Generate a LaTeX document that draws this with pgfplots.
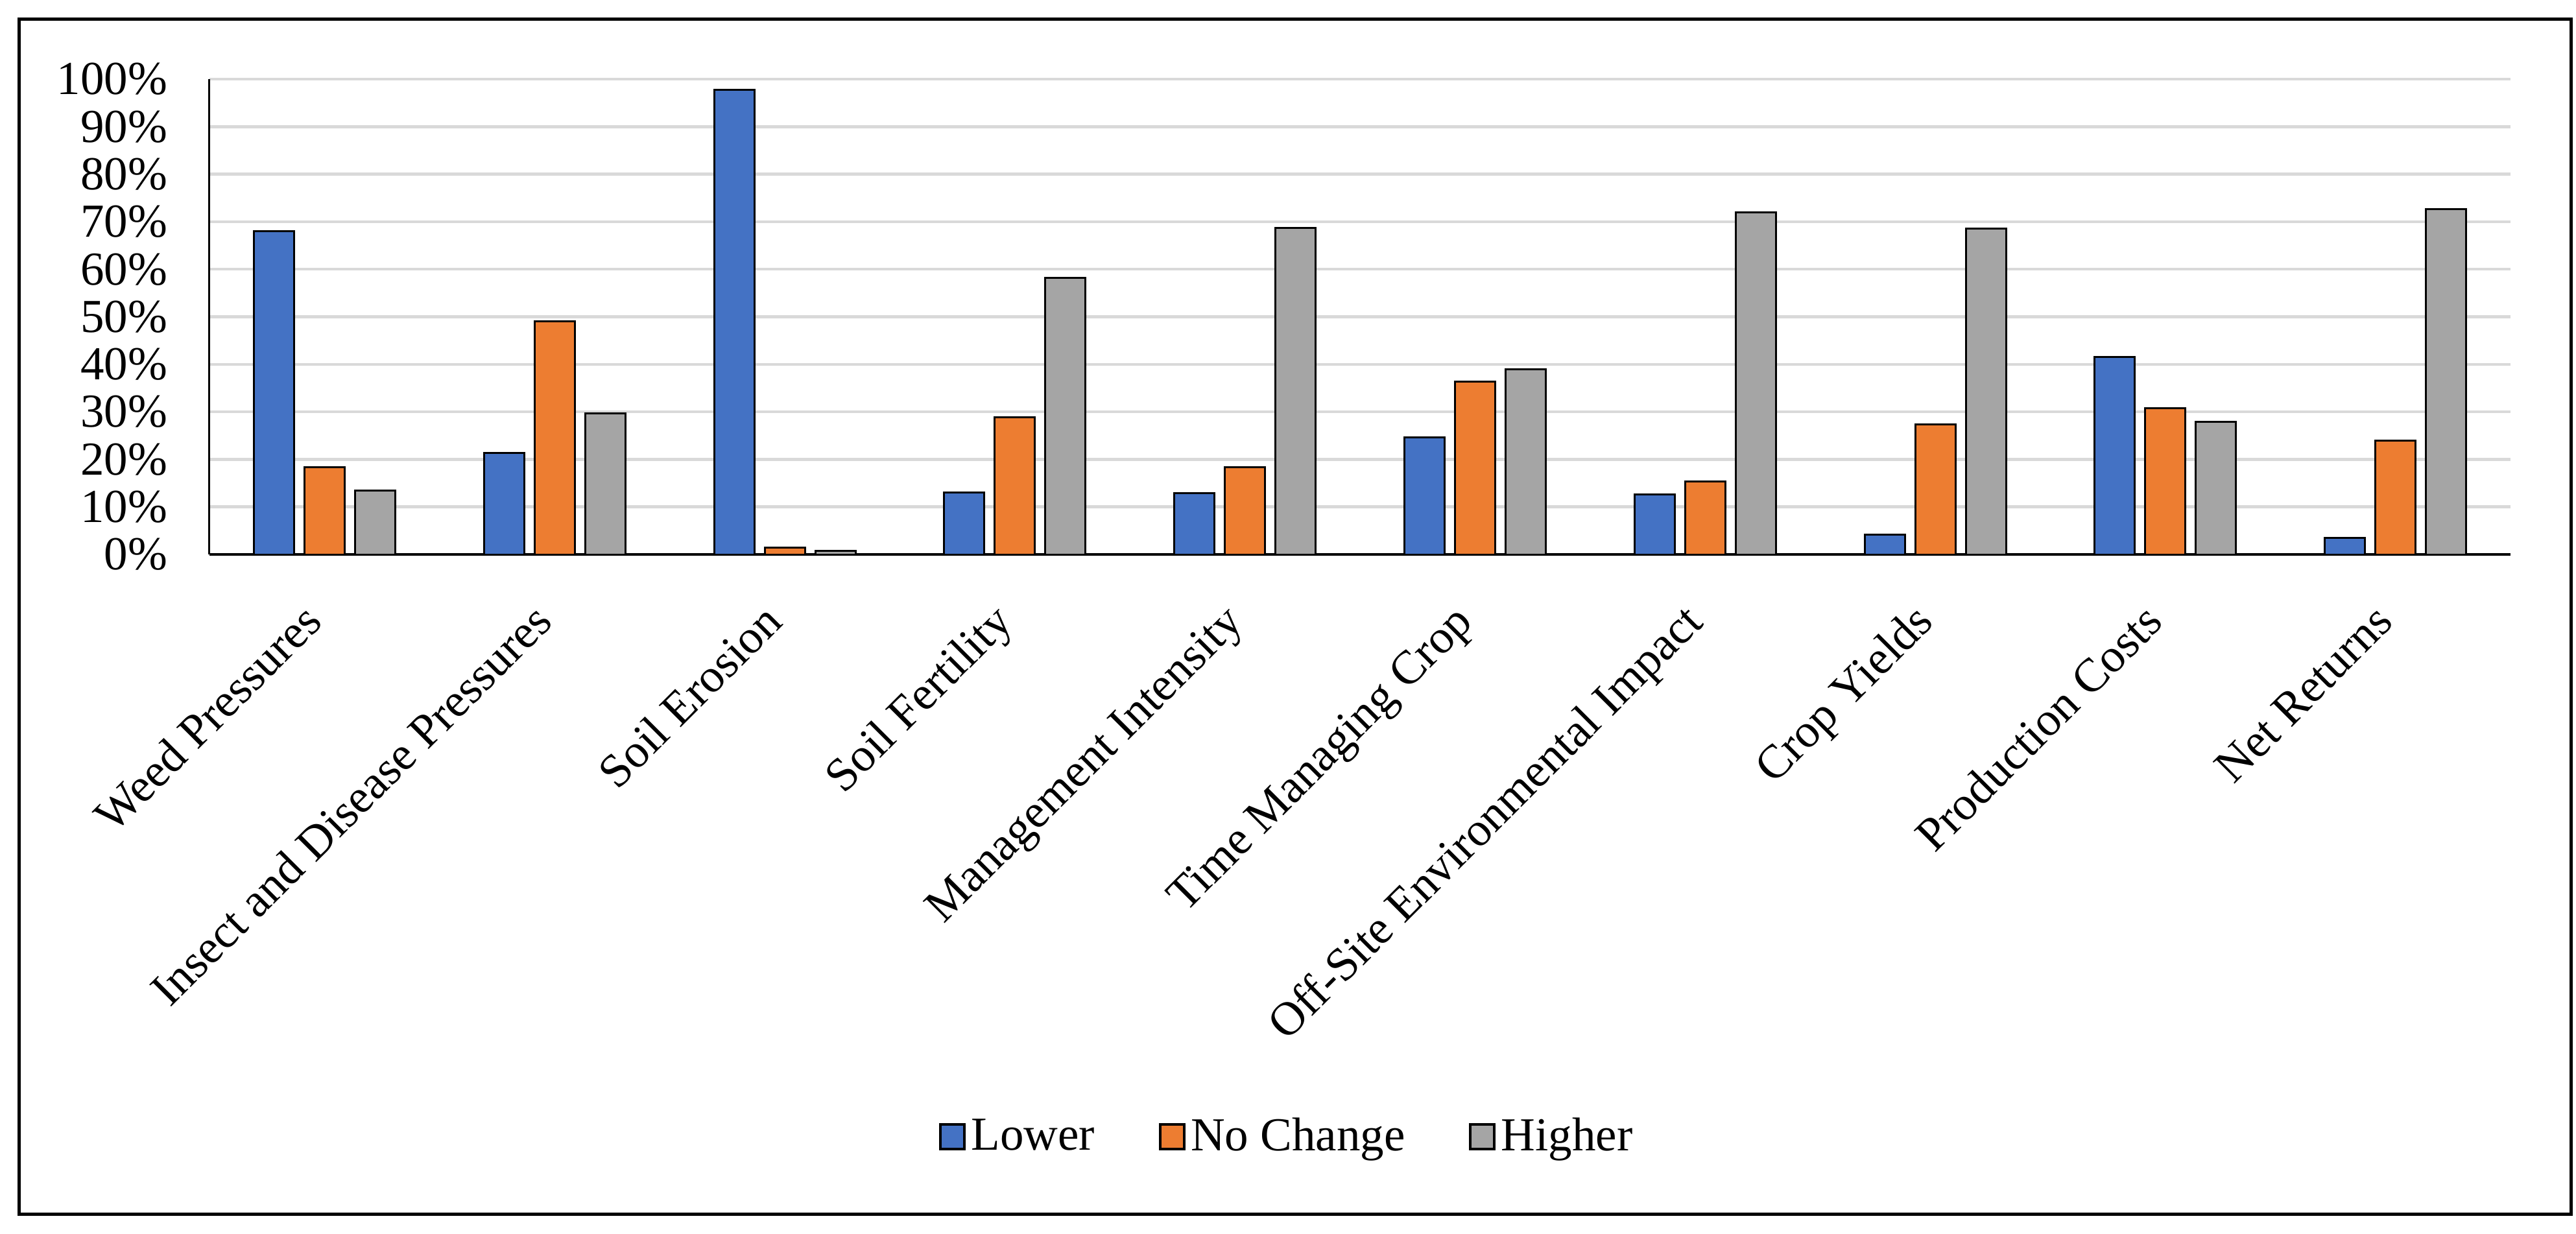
\documentclass[border=0pt]{standalone}
\usepackage{fontspec}
\setmainfont{Liberation Serif}
\usepackage{pgfplots}
\pgfplotsset{compat=1.18}

\definecolor{cLower}{HTML}{4472C4}
\definecolor{cNoChange}{HTML}{ED7D31}
\definecolor{cHigher}{HTML}{A5A5A5}
\definecolor{cGrid}{HTML}{D9D9D9}

\begin{document}
\begin{tikzpicture}
\useasboundingbox (-64.6pt,-209.4pt) rectangle (729.8pt,171pt);
\draw[line width=1pt] (-58.7pt,-203.4pt) rectangle (728.2pt,165pt);
\begin{axis}[
  at={(0pt,0pt)}, anchor=south west,
  scale only axis,
  width=709.6pt, height=146.6pt,
  font=\fontsize{14.6}{17}\selectfont,
  ybar=3.2pt, bar width=12.4pt,
  xmin=-0.5, xmax=9.5,
  ymin=0, ymax=100,
  xtick={0,...,9},
  xticklabels={Weed Pressures,Insect and Disease Pressures,Soil Erosion,Soil Fertility,Management Intensity,Time Managing Crop,Off-Site Environmental Impact,Crop Yields,Production Costs,Net Returns},
  ytick={0,10,...,100},
  yticklabel={\pgfmathprintnumber{\tick}\%},
  /pgf/number format/assume math mode=true,
  axis x line=bottom, axis y line=left,
  x axis line style={-,line width=0.8pt},
  y axis line style={-,line width=0.6pt},
  major tick length=0pt,
  ymajorgrids,
  major grid style={color=cGrid,line width=0.9pt},
  yticklabel style={anchor=east,inner sep=0pt,xshift=-12.8pt},
  xticklabel style={yshift=-21.4pt,rotate=45,anchor=base east,inner sep=0pt},
  legend columns=3,
  legend style={draw=none,at={(0.469,-1.225)},anchor=center,
    font=\fontsize{14.6}{17}\selectfont,
    nodes={inner sep=1.7pt},
    /tikz/every even column/.append style={column sep=18pt}},
  legend image code/.code={\draw[#1,line width=0.8pt] (0pt,-3.8pt) rectangle (7.4pt,3.8pt);},
  every axis plot/.append style={draw=black,line width=0.6pt},
]
\addplot[fill=cLower] coordinates {(0,68.0)(1,21.3)(2,97.8)(3,13.0)(4,12.9)(5,24.6)(6,12.6)(7,4.1)(8,41.6)(9,3.5)};
\addplot[fill=cNoChange] coordinates {(0,18.4)(1,49.0)(2,1.4)(3,28.8)(4,18.4)(5,36.3)(6,15.4)(7,27.4)(8,30.7)(9,24.0)};
\addplot[fill=cHigher] coordinates {(0,13.5)(1,29.7)(2,0.75)(3,58.2)(4,68.7)(5,39.0)(6,72.0)(7,68.5)(8,27.9)(9,72.6)};
\legend{Lower,No Change,Higher}
\end{axis}
\end{tikzpicture}
\end{document}
